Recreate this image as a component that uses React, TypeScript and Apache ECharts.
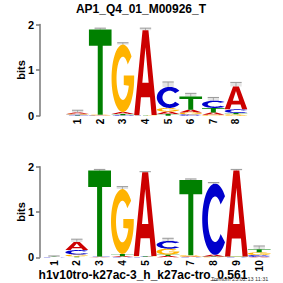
import React, { useEffect, useRef } from "react";
import * as echarts from "echarts";

// Top motif: AP1_Q4_01_M00926_T (bits per letter per position)
const topTitle = "AP1_Q4_01_M00926_T";
const topPositions = ["1", "2", "3", "4", "5", "6", "7", "8"];
const topA = [0.025, 0.005, 0.04, 1.86, 0.05, 0.06, 0.05, 0.5];
const topC = [0.015, 0.005, 0.01, 0.005, 0.46, 0.03, 0.16, 0.08];
const topG = [0.02, 0.01, 1.48, 0.005, 0.08, 0.04, 0.02, 0.03];
const topT = [0.01, 1.87, 0.03, 0.005, 0.04, 0.29, 0.1, 0.03];
const topErr = [0.12, 1.92, 1.6, 1.92, 0.74, 0.49, 0.4, 0.73];

// Bottom motif: h1v10tro-k27ac-3_h_k27ac-tro_0.561
const bottomName = "h1v10tro-k27ac-3_h_k27ac-tro_0.561";
const botPositions = ["1", "2", "3", "4", "5", "6", "7", "8", "9", "10"];
const botA = [0.003, 0.18, 0.005, 0.02, 1.85, 0.03, 0.01, 0.04, 1.9, 0.01];
const botC = [0.003, 0.1, 0.005, 0.005, 0.01, 0.17, 0.005, 1.57, 0.005, 0.04];
const botG = [0.003, 0.04, 0.005, 1.43, 0.01, 0.13, 0.03, 0.005, 0.005, 0.06];
const botT = [0.003, 0.02, 1.9, 0.05, 0.01, 0.03, 1.66, 0.01, 0.005, 0.07];
const botErr = [0.03, 0.4, 1.94, 1.56, 1.89, 0.42, 1.73, 1.65, 1.94, 0.25];

const yName = "bits";
const stampText = "Tomtom 23.02.13 11:31";

const COLORS = ["#CC0000", "#0000CC", "#FFB300", "#008000"];

function ell(cx: number, cy: number, rx: number, ry: number, a0: number, a1: number, n: number) {
  const pts: string[] = [];
  for (let k = 0; k <= n; k++) {
    const t = ((a0 + ((a1 - a0) * k) / n) * Math.PI) / 180;
    pts.push((cx + rx * Math.cos(t)).toFixed(2) + " " + (cy - ry * Math.sin(t)).toFixed(2));
  }
  return pts;
}

const pathA = "M0 100 L37 0 L63 0 L100 100 L77 100 L70 79 L30 79 L23 100 Z M36 62 L64 62 L50 20 Z";
const pathT = "M0 0 L100 0 L100 19 L61 19 L61 100 L39 100 L39 19 L0 19 Z";
const pathC = (() => {
  const o = ell(50, 50, 50, 50, 40, 320, 48);
  const i = ell(50, 50, 28, 32, 320, 40, 48);
  return "M" + o.join(" L") + " L" + i.join(" L") + " Z";
})();
const pathG = (() => {
  const o = ell(50, 50, 50, 50, 40, 360, 52);
  const i = ell(50, 50, 28, 32, 340, 40, 52);
  return "M" + o.join(" L") + " L100 46 L54 46 L54 60 L" + i.join(" L") + " Z";
})();
const PATHS = [pathA, pathC, pathG, pathT];

function stack(A: number[], C: number[], G: number[], T: number[]) {
  const items: number[][] = [];
  for (let p = 0; p < A.length; p++) {
    const arr = [A[p], C[p], G[p], T[p]].map((h, l) => ({ h, l }));
    arr.sort((a, b) => a.h - b.h);
    let y = 0;
    for (const e of arr) {
      items.push([p, y, y + e.h, e.l]);
      y += e.h;
    }
  }
  return items;
}

function tops(A: number[], C: number[], G: number[], T: number[], E: number[]) {
  return A.map((_, p) => [p, A[p] + C[p] + G[p] + T[p], E[p]]);
}

const letterRender = (params: any, api: any) => {
  const i = api.value(0);
  const y0 = api.value(1);
  const y1 = api.value(2);
  const l = api.value(3);
  const p0 = api.coord([i, y0]);
  const p1 = api.coord([i, y1]);
  const bw = api.size([1, 0])[0];
  const w = bw * 1.0;
  const h = Math.max(p0[1] - p1[1], 0.05);
  return {
    type: "path",
    shape: { pathData: PATHS[l], x: p0[0] - w / 2, y: p1[1], width: w, height: h, layout: "cover" },
    style: { fill: COLORS[l] },
  };
};

const errRender = (params: any, api: any) => {
  const i = api.value(0);
  const top = api.value(1);
  const e = api.value(2);
  const pt = api.coord([i, top]);
  const pe = api.coord([i, e]);
  const bw = api.size([1, 0])[0];
  const cw = bw * 0.5;
  return {
    type: "group",
    children: [
      {
        type: "rect",
        shape: { x: pt[0] - cw / 2, y: pe[1], width: cw, height: Math.max(pt[1] - pe[1], 0) },
        style: { fill: "#e4e4e4" },
      },
      {
        type: "line",
        shape: { x1: pt[0], y1: pe[1], x2: pt[0], y2: pt[1] },
        style: { stroke: "#aaaaaa", lineWidth: 1 },
      },
      {
        type: "line",
        shape: { x1: pt[0] - cw / 2, y1: pe[1], x2: pt[0] + cw / 2, y2: pe[1] },
        style: { stroke: "#999999", lineWidth: 1 },
      },
    ],
  };
};

const FONT = "Liberation Sans, Arial, Helvetica, sans-serif";

function yAxisCfg(gridIndex: number, offset: number) {
  return {
    type: "value",
    gridIndex,
    min: 0,
    max: 2,
    interval: 1,
    offset,
    axisLine: { show: true, lineStyle: { color: "#777", width: 1.5 } },
    axisTick: { show: true, length: 4, lineStyle: { color: "#777", width: 1.5 } },
    axisLabel: { fontFamily: FONT, fontWeight: "bold", fontSize: 11, color: "#000", margin: 6 },
    splitLine: { show: false },
  };
}

function xAxisCfg(gridIndex: number, data: string[]) {
  return {
    type: "category",
    gridIndex,
    data,
    boundaryGap: true,
    axisLine: { show: false },
    axisTick: { show: false },
    axisLabel: { rotate: 90, fontFamily: FONT, fontWeight: "bold", fontSize: 10, color: "#000", margin: 3 },
    splitLine: { show: false },
  };
}

function bitsLabel(y: number) {
  return {
    type: "text",
    x: 21,
    y,
    rotation: Math.PI / 2,
    style: { text: yName, fontFamily: FONT, fontWeight: "bold", fontSize: 11, fill: "#000", align: "center", verticalAlign: "middle" },
  };
}

export default function App() {
  const ref = useRef<HTMLDivElement>(null);
  useEffect(() => {
    if (!ref.current) return;
    const chart = echarts.init(ref.current, null, { renderer: "svg" });
    chart.setOption({
      animation: false,
      backgroundColor: "#ffffff",
      grid: [
        { left: 66.3, top: 24.5, width: 181, height: 91.2 },
        { left: 42.6, top: 166.7, width: 228, height: 90.6 },
      ],
      xAxis: [xAxisCfg(0, topPositions), xAxisCfg(1, botPositions)],
      yAxis: [yAxisCfg(0, 26.3), yAxisCfg(1, 2.6)],
      series: [
        { type: "custom", xAxisIndex: 0, yAxisIndex: 0, renderItem: errRender, data: tops(topA, topC, topG, topT, topErr), z: 1 },
        { type: "custom", xAxisIndex: 0, yAxisIndex: 0, renderItem: letterRender, data: stack(topA, topC, topG, topT), z: 2 },
        { type: "custom", xAxisIndex: 1, yAxisIndex: 1, renderItem: errRender, data: tops(botA, botC, botG, botT, botErr), z: 1 },
        { type: "custom", xAxisIndex: 1, yAxisIndex: 1, renderItem: letterRender, data: stack(botA, botC, botG, botT), z: 2 },
      ],
      graphic: [
        {
          type: "text",
          x: 141,
          y: 9,
          style: { text: topTitle, fontFamily: FONT, fontWeight: "bold", fontSize: 12, fill: "#000", align: "center", verticalAlign: "middle" },
        },
        bitsLabel(70),
        bitsLabel(212),
        {
          type: "text",
          x: 143,
          y: 275,
          style: { text: bottomName, fontFamily: FONT, fontWeight: "bold", fontSize: 12, fill: "#000", align: "center", verticalAlign: "middle" },
        },
        {
          type: "text",
          x: 211,
          y: 279,
          style: { text: stampText, fontFamily: FONT, fontSize: 5.5, fill: "#333", align: "left", verticalAlign: "middle" },
        },
      ],
    });
    return () => chart.dispose();
  }, []);
  return <div ref={ref} style={{ position: "fixed", left: 0, top: 0, width: 283, height: 283, background: "#fff" }} />;
}
